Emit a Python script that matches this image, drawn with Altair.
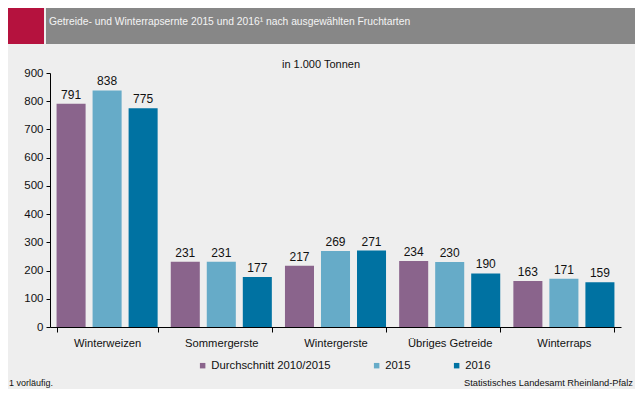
import altair as alt
import pandas as pd

categories = ["Winterweizen", "Sommergerste", "Wintergerste", "Übriges Getreide", "Winterraps"]
series = ["Durchschnitt 2010/2015", "2015", "2016"]
avg_2010_2015 = [791, 231, 217, 234, 163]
v2015 = [838, 231, 269, 230, 171]
v2016 = [775, 177, 271, 190, 159]
y_ticks = [0, 100, 200, 300, 400, 500, 600, 700, 800, 900]
colors = ["#8A648C", "#66ABC8", "#0072A2"]

rows = []
for i, c in enumerate(categories):
    for s, vals in zip(series, [avg_2010_2015, v2015, v2016]):
        rows.append({"Fruchtart": c, "Serie": s, "Wert": vals[i]})
df = pd.DataFrame(rows)

FONT = "Liberation Sans"
W, H = 571, 254

xenc = alt.X("Fruchtart:N", sort=categories,
             scale=alt.Scale(paddingInner=0.115, paddingOuter=0.0575),
             axis=alt.Axis(title=None, labelAngle=0, labelFontSize=11.2, labelColor="#111",
                           tickBand="extent", tickSize=5, tickColor="#000", domainColor="#000",
                           labelPadding=5, labelFont=FONT, labelOverlap=False))
xoff = alt.XOffset("Serie:N", sort=series, scale=alt.Scale(paddingInner=0.194, paddingOuter=0))
yenc = alt.Y("Wert:Q", scale=alt.Scale(domain=[0, 900], nice=False, zero=True),
             axis=alt.Axis(title=None, values=y_ticks, grid=False,
                           labelFontSize=11.5, labelColor="#111", tickSize=4, tickColor="#000",
                           domainColor="#000", labelPadding=3, labelFont=FONT,
                           labelOverlap=False, labelSeparation=0, labelBound=False))

base = alt.Chart(df).encode(x=xenc, xOffset=xoff, y=yenc)
bars = base.mark_bar().encode(
    color=alt.Color("Serie:N", sort=series, scale=alt.Scale(domain=series, range=colors),
                    legend=alt.Legend(title=None, orient="none", legendX=147, legendY=287,
                                      direction="horizontal", symbolType="square", symbolSize=30,
                                      symbolStrokeWidth=0, labelFontSize=11.3, labelFont=FONT,
                                      labelColor="#111", columnPadding=40, labelOffset=3)),
)
labels = base.mark_text(dy=-9, fontSize=12, font=FONT, color="#111").encode(text="Wert:Q")
data_layer = alt.layer(bars, labels)

one = pd.DataFrame({"a": [0]})
red = alt.Chart(one).mark_rect(color="#B5123E").encode(
    x=alt.value(-50), x2=alt.value(-6), y=alt.value(-73), y2=alt.value(-29))
grey = alt.Chart(one).mark_rect(color="#878787").encode(
    x=alt.value(-4), x2=alt.value(590), y=alt.value(-73), y2=alt.value(-29))
header = alt.Chart(one).mark_text(align="left", baseline="middle", fontSize=10.3, font=FONT,
                                  color="#f4f4f4").encode(
    x=alt.value(-1), y=alt.value(-51),
    text=alt.value("Getreide- und Winterrapsernte 2015 und 2016¹ nach ausgewählten Fruchtarten"))
unit = alt.Chart(one).mark_text(align="center", baseline="middle", fontSize=11, font=FONT,
                                color="#111").encode(
    x=alt.value(271), y=alt.value(-8), text=alt.value("in 1.000 Tonnen"))
foot = alt.Chart(one).mark_text(align="left", baseline="middle", fontSize=9, font=FONT,
                                color="#111").encode(
    x=alt.value(-41), y=alt.value(310), text=alt.value("1 vorläufig."))
source = alt.Chart(one).mark_text(align="right", baseline="middle", fontSize=9.3, font=FONT,
                                  color="#111").encode(
    x=alt.value(583), y=alt.value(310), text=alt.value("Statistisches Landesamt Rheinland-Pfalz"))

chart = alt.layer(red, grey, header, unit, data_layer, foot, source).properties(
    width=W, height=H, background="#eeeeee",
    padding={"left": 42, "top": 65, "right": 14, "bottom": 62},
    autosize=alt.AutoSizeParams(type="none"),
).configure_view(stroke=None).configure_axisY(labelOverlap=False, values=y_ticks)

chart.save("out.html", embed_options={"renderer": "svg", "actions": False})
